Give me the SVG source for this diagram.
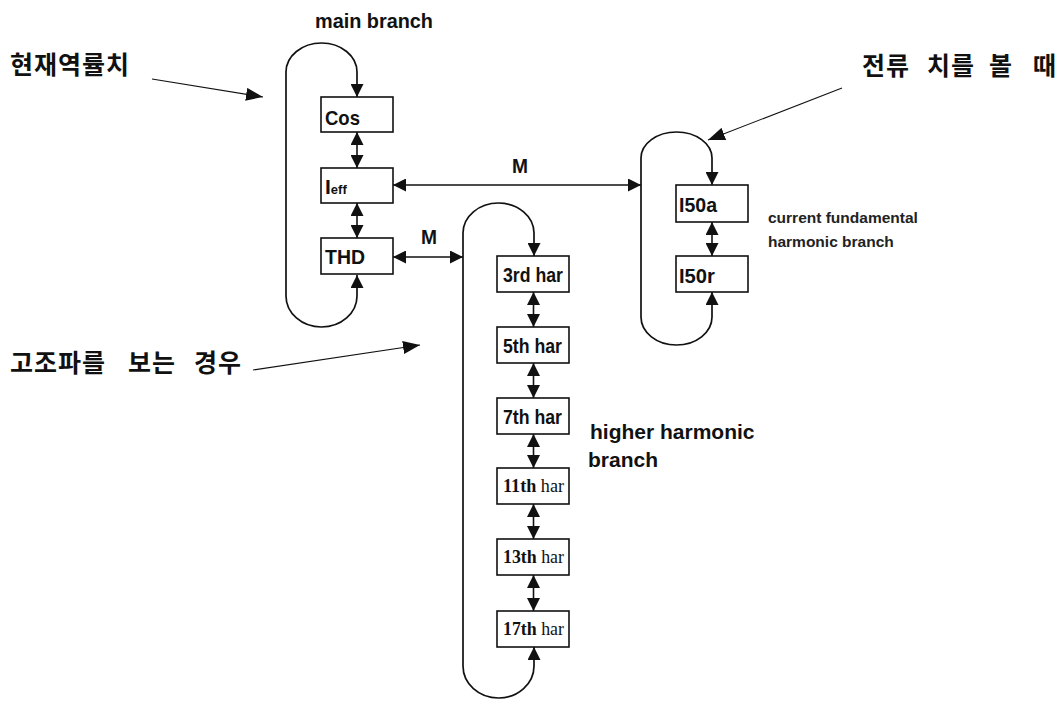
<svg xmlns="http://www.w3.org/2000/svg" width="1061" height="701" viewBox="0 0 1061 701">
<defs>
<style>
.box{fill:#fff;stroke:#111;stroke-width:1.6}
.loop{fill:none;stroke:#111;stroke-width:1.7}
.con{fill:none;stroke:#111;stroke-width:1.6}
.ptr{fill:none;stroke:#111;stroke-width:1.1}
.lb{font-family:"Liberation Sans",Arial,sans-serif;font-weight:bold;font-size:21px;fill:#111}
.ls{font-family:"Liberation Serif","Times New Roman",serif;font-size:19px;fill:#111}
.note{font-family:"Liberation Sans",Arial,sans-serif;font-weight:bold;font-size:21px;fill:#111}
.small{font-family:"Liberation Sans",Arial,sans-serif;font-weight:bold;font-size:15.5px;fill:#222}
.kr{font-family:"Liberation Sans","Noto Sans CJK KR",sans-serif;font-weight:bold;font-size:25px;letter-spacing:1px;fill:#111}
</style>
<marker id="ah" viewBox="0 0 13 13" refX="13" refY="6.5" markerWidth="13" markerHeight="13" markerUnits="userSpaceOnUse" orient="auto-start-reverse"><path d="M0,0 L13,6.5 L0,13 z" fill="#111"/></marker>
<marker id="ahk" viewBox="0 0 17 13" refX="17" refY="6.5" markerWidth="17" markerHeight="13" markerUnits="userSpaceOnUse" orient="auto"><path d="M0,0 L17,6.5 L0,13 z" fill="#111"/></marker>
</defs>
<rect width="1061" height="701" fill="#fff"/>

<g id="connectors">
<path class="loop" d="M357,275 L357,296 A35.5,31 0 0 1 286,296 L286,72 A35.5,29 0 0 1 357,72 L357,97" marker-start="url(#ah)" marker-end="url(#ah)"/>
<path class="loop" d="M712,292 L712,317 A35.5,28 0 0 1 641,317 L641,158 A35.5,26 0 0 1 712,158 L712,185" marker-start="url(#ah)" marker-end="url(#ah)"/>
<path class="loop" d="M534,647 L534,666 A35.5,32 0 0 1 463,666 L463,233 A35.5,30 0 0 1 534,233 L534,256" marker-start="url(#ah)" marker-end="url(#ah)"/>
<line class="con" x1="357" y1="132" x2="357" y2="168" marker-start="url(#ah)" marker-end="url(#ah)"/>
<line class="con" x1="357" y1="203" x2="357" y2="238" marker-start="url(#ah)" marker-end="url(#ah)"/>
<line class="con" x1="712" y1="222" x2="712" y2="256" marker-start="url(#ah)" marker-end="url(#ah)"/>
<line class="con" x1="533.5" y1="292" x2="533.5" y2="327" marker-start="url(#ah)" marker-end="url(#ah)"/>
<line class="con" x1="533.5" y1="363" x2="533.5" y2="398" marker-start="url(#ah)" marker-end="url(#ah)"/>
<line class="con" x1="533.5" y1="434" x2="533.5" y2="468" marker-start="url(#ah)" marker-end="url(#ah)"/>
<line class="con" x1="533.5" y1="504" x2="533.5" y2="539" marker-start="url(#ah)" marker-end="url(#ah)"/>
<line class="con" x1="533.5" y1="575" x2="533.5" y2="611" marker-start="url(#ah)" marker-end="url(#ah)"/>
<line class="con" x1="393" y1="185" x2="641" y2="185" marker-start="url(#ah)" marker-end="url(#ah)"/>
<line class="con" x1="393" y1="257" x2="463" y2="257" marker-start="url(#ah)" marker-end="url(#ah)"/>
<text class="lb" x="512" y="173" textLength="16" lengthAdjust="spacingAndGlyphs">M</text>
<text class="lb" x="421" y="244" textLength="16" lengthAdjust="spacingAndGlyphs">M</text>
<line class="ptr" x1="152" y1="79" x2="263" y2="97" marker-end="url(#ahk)"/>
<line class="ptr" x1="253" y1="370" x2="420" y2="345" marker-end="url(#ahk)"/>
<line class="ptr" x1="842" y1="88" x2="708" y2="140" marker-end="url(#ahk)"/>
</g>

<g id="node-cos"><rect class="box" x="321" y="97" width="72" height="35"/><text class="lb" x="325" y="125" textLength="35" lengthAdjust="spacingAndGlyphs">Cos</text></g>
<g id="node-ieff"><rect class="box" x="321" y="168" width="72" height="35"/><text class="lb" x="325" y="194" font-size="22">I<tspan font-size="13">eff</tspan></text></g>
<g id="node-thd"><rect class="box" x="321" y="238" width="72" height="36"/><text class="lb" x="325" y="264" textLength="40" lengthAdjust="spacingAndGlyphs">THD</text></g>
<g id="node-i50a"><rect class="box" x="676" y="185" width="72" height="37"/><text class="lb" x="679" y="212" textLength="38" lengthAdjust="spacingAndGlyphs">I50a</text></g>
<g id="node-i50r"><rect class="box" x="676" y="256" width="72" height="36"/><text class="lb" x="679" y="283" textLength="36" lengthAdjust="spacingAndGlyphs">I50r</text></g>
<g id="node-3rd"><rect class="box" x="497" y="256" width="72" height="36"/><text class="lb" x="503" y="282" textLength="60" lengthAdjust="spacingAndGlyphs">3rd har</text></g>
<g id="node-5th"><rect class="box" x="497" y="327" width="72" height="36"/><text class="lb" x="503" y="353" textLength="59" lengthAdjust="spacingAndGlyphs">5th har</text></g>
<g id="node-7th"><rect class="box" x="497" y="398" width="72" height="36"/><text class="lb" x="503" y="424" textLength="59" lengthAdjust="spacingAndGlyphs">7th har</text></g>
<g id="node-11th"><rect class="box" x="497" y="468" width="72" height="36"/><text class="ls" x="503" y="492" textLength="61" lengthAdjust="spacingAndGlyphs"><tspan font-weight="bold">11th</tspan> har</text></g>
<g id="node-13th"><rect class="box" x="497" y="539" width="72" height="36"/><text class="ls" x="503" y="563" textLength="61" lengthAdjust="spacingAndGlyphs"><tspan font-weight="bold">13th</tspan> har</text></g>
<g id="node-17th"><rect class="box" x="497" y="611" width="72" height="36"/><text class="ls" x="503" y="635" textLength="61" lengthAdjust="spacingAndGlyphs"><tspan font-weight="bold">17th</tspan> har</text></g>

<g id="labels">
<text class="note" x="315" y="28" font-size="19" textLength="118" lengthAdjust="spacingAndGlyphs">main branch</text>
<text class="small" x="768" y="223">current fundamental</text>
<text class="small" x="768" y="247">harmonic branch</text>
<text class="note" x="590" y="439">higher harmonic</text>
<text class="note" x="588" y="467">branch</text>
<text class="kr" x="10" y="74">현재역률치</text>
<text class="kr" y="372"><tspan x="10">고조파를</tspan><tspan x="128">보는</tspan><tspan x="194">경우</tspan></text>
<text class="kr" y="75"><tspan x="862">전류</tspan><tspan x="927">치를</tspan><tspan x="989">볼</tspan><tspan x="1033">때</tspan></text>
</g>
</svg>
